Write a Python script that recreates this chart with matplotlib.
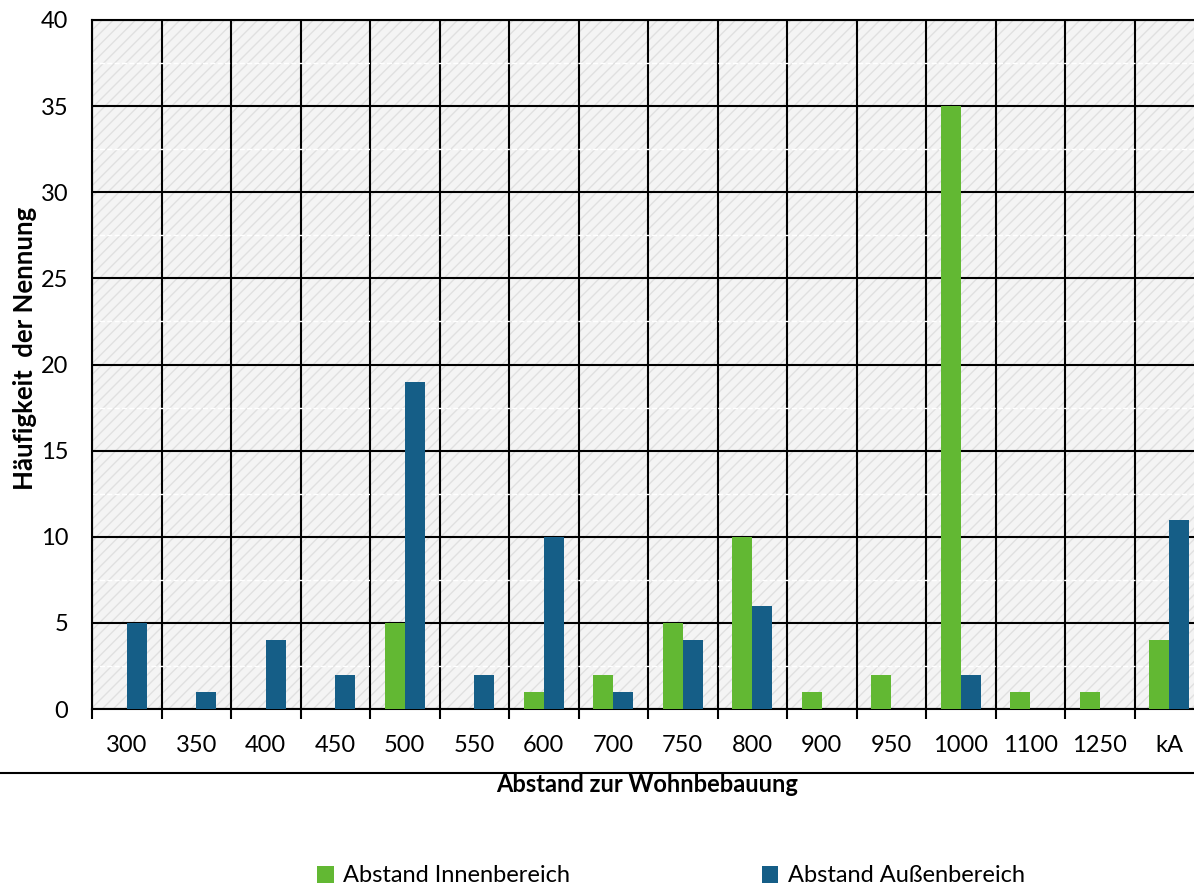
import numpy as np
import matplotlib.pyplot as plt
from matplotlib.patches import Rectangle
from matplotlib.lines import Line2D

plt.rcParams['font.family'] = ['Lato', 'DejaVu Sans']
plt.rcParams['hatch.linewidth'] = 1.0

categories = ['300', '350', '400', '450', '500', '550', '600', '700', '750',
              '800', '900', '950', '1000', '1100', '1250', 'kA']
innen = [0, 0, 0, 0, 5, 0, 1, 2, 5, 10, 1, 2, 35, 1, 1, 4]
aussen = [5, 1, 4, 2, 19, 2, 10, 1, 4, 6, 0, 0, 2, 0, 0, 11]

green = '#62b833'
blue = '#155e87'

fig = plt.figure(figsize=(11.94, 8.86), dpi=100)
W, H = 1194, 886
ax = fig.add_axes([92 / W, 1 - 709 / H, 1112 / W, (709 - 20) / H])

x = np.arange(len(categories))
bw = 0.29

# light hatched plot area
ax.set_facecolor('#f4f4f4')
ax.add_patch(Rectangle((0, 0), 1, 1, transform=ax.transAxes, facecolor='none',
                       edgecolor='#e0e0e0', hatch='///', linewidth=0, zorder=0))

ax.bar(x - bw / 2, innen, bw, color=green, label='Abstand Innenbereich', zorder=3)
ax.bar(x + bw / 2, aussen, bw, color=blue, label='Abstand Außenbereich', zorder=3)

ax.set_xlim(-0.5, len(categories) - 0.5)
ax.set_ylim(0, 40)
ax.set_yticks(np.arange(0, 41, 5))
ax.set_yticks(np.arange(2.5, 40, 5), minor=True)
ax.set_xticks(x)
ax.set_xticks(np.arange(-0.5, len(categories), 1), minor=True)
ax.set_xticklabels(categories, fontsize=17)
ax.tick_params(axis='y', labelsize=17, length=0, pad=17)
ax.tick_params(axis='x', which='major', length=0, pad=19)
ax.tick_params(axis='x', which='minor', length=7, width=1.5, direction='out')
ax.tick_params(axis='y', which='minor', length=0)

ax.grid(axis='y', which='major', color='black', linewidth=1.5, zorder=1)
ax.grid(axis='x', which='minor', color='black', linewidth=1.5, zorder=1)
ax.grid(axis='y', which='minor', color='white', linewidth=1.0, linestyle='--', zorder=1)
ax.set_axisbelow(True)
for s in ax.spines.values():
    s.set_linewidth(1.5)

fig.text(25 / W, 1 - 348 / H, 'Häufigkeit  der Nennung', rotation=90, ha='center',
         va='center', fontsize=18.5, fontweight='bold')

# line under the category labels and axis title
fig.add_artist(Line2D([0, 1], [1 - 773 / H, 1 - 773 / H], color='black', linewidth=1.5))
fig.text(647 / W, 1 - 785 / H, 'Abstand zur Wohnbebauung', ha='center', va='center',
         fontsize=17, fontweight='bold')

fig.legend(loc='center', bbox_to_anchor=(671 / W, 1 - 876 / H), ncol=2, frameon=False,
           fontsize=17, handlelength=0.7, handleheight=0.7, handletextpad=0.4,
           columnspacing=8.1)

fig.savefig('out.png', dpi=100)
